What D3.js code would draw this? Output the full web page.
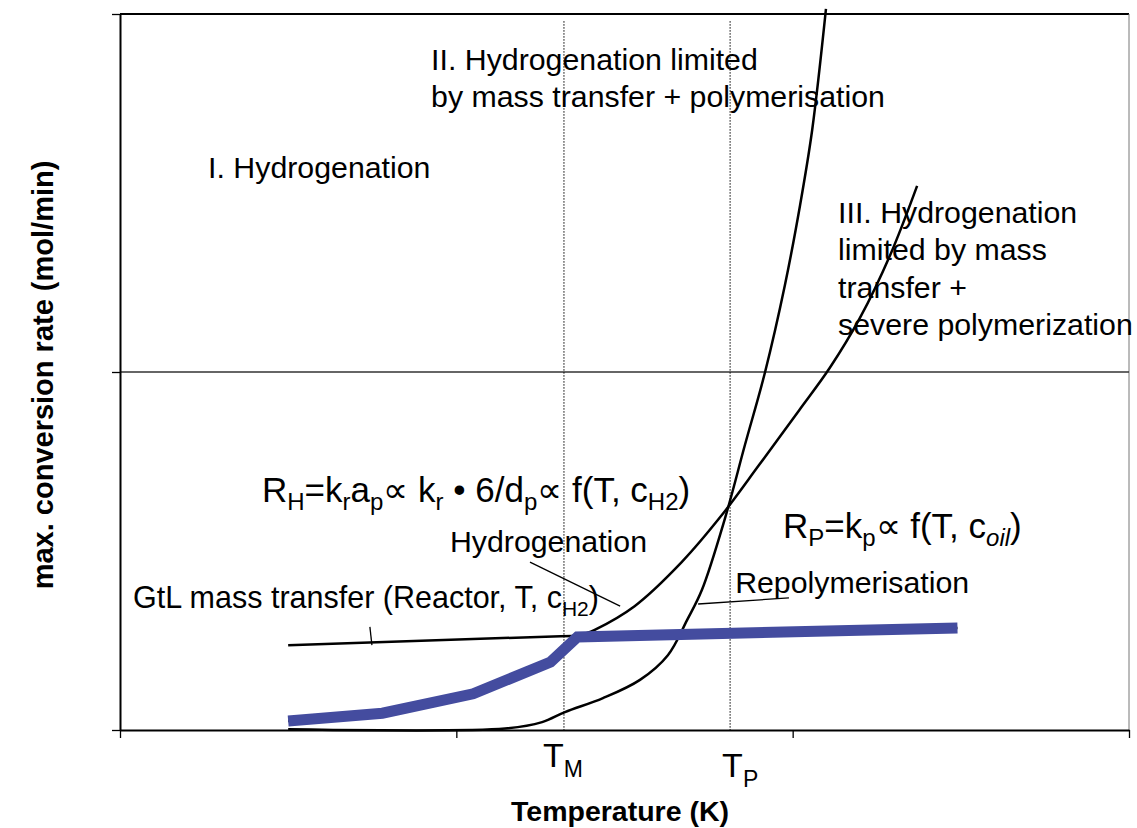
<!DOCTYPE html>
<html>
<head>
<meta charset="utf-8">
<script src="https://cdn.jsdelivr.net/npm/d3@7"></script>
<style>
  body { margin: 0; background: #fff; }
  text { font-family: "Liberation Sans", Arial, Helvetica, sans-serif; fill: #000; }
</style>
</head>
<body>
<div id="chart"></div>
<script>
// data (temperature and rate in arbitrary units)
var xTicks = [0, 1, 2, 3];
var yTicks = [0, 1, 2];

// gas-to-liquid mass transfer limit
var massTransfer = [[0.50, 0.237], [1.31, 0.262], [2.49, 0.285]];

// hydrogenation rate
var hydrogenation = [[0.50, 0.025], [0.78, 0.047], [1.05, 0.101], [1.28, 0.190], [1.36, 0.260],
  [1.41, 0.279], [1.53, 0.346], [1.67, 0.469], [1.79, 0.601], [1.90, 0.740], [2.02, 0.894],
  [2.11, 1.011], [2.20, 1.151], [2.29, 1.327], [2.37, 1.520]];

// repolymerisation rate
var repolymerisation = [[0.50, 0.002], [1.145, 0.004], [1.255, 0.022], [1.323, 0.050], [1.436, 0.089],
  [1.546, 0.140], [1.629, 0.209], [1.686, 0.307], [1.730, 0.391], [1.799, 0.592], [1.858, 0.796],
  [1.918, 1.000], [1.977, 1.243], [2.022, 1.466], [2.058, 1.676], [2.099, 2.014]];

// max. conversion rate (thick line)
var maxRate = [[0.50, 0.025], [0.78, 0.047], [1.05, 0.101], [1.28, 0.190], [1.36, 0.260], [2.49, 0.285]];

// characteristic temperatures
var tMarks = [{name: "M", x: 1.320, dx: -21, dy: 37}, {name: "P", x: 1.814, dx: -8, dy: 47}];

// leader lines for the labels
var leaders = [
  [[1.219, 0.469], [1.487, 0.346]],
  [[1.719, 0.352], [1.989, 0.369]],
  [[0.743, 0.288], [0.749, 0.237]]
];

// plain region labels
var labels = [
  {text: "I. Hydrogenation", x: 0.262, y: 1.542},
  {text: "II. Hydrogenation limited", x: 0.925, y: 1.844},
  {text: "by mass transfer + polymerisation", x: 0.925, y: 1.740},
  {text: "III. Hydrogenation", x: 2.135, y: 1.416},
  {text: "limited by mass", x: 2.135, y: 1.313},
  {text: "transfer +", x: 2.135, y: 1.207},
  {text: "severe polymerization", x: 2.135, y: 1.103},
  {text: "Hydrogenation", x: 0.981, y: 0.497},
  {text: "Repolymerisation", x: 1.829, y: 0.383}
];

// labels with subscripts: pieces of [text, kind] (n normal, s sub, i italic sub)
var richLabels = [
  {x: 0.422, y: 0.637, size: 35, parts: [["R", "n"], ["H", "s"], ["=k", "n"], ["r", "s"], ["a", "n"], ["p", "s"],
    ["\u221D k", "n"], ["r", "s"], [" \u2022 6/d", "n"], ["p", "s"], ["\u221D f(T, c", "n"], ["H2", "s"], [")", "n"]]},
  {x: 1.971, y: 0.536, size: 35, parts: [["R", "n"], ["P", "s"], ["=k", "n"], ["p", "s"], ["\u221D f(T, c", "n"], ["oil", "i"], [")", "n"]]},
  {x: 0.039, y: 0.341, size: 30.5, parts: [["GtL mass transfer (Reactor, T, c", "n"], ["H2", "s"], [")", "n"]]}
];

var width = 1137, height = 828;
var x = d3.scaleLinear().domain([0, 3]).range([120, 1129]);
var y = d3.scaleLinear().domain([0, 2]).range([730, 14]);

var svg = d3.select("#chart").append("svg")
    .attr("width", width)
    .attr("height", height);

// frame and grid line
svg.append("line")
    .attr("x1", x(0)).attr("x2", x(3))
    .attr("y1", y(2)).attr("y2", y(2))
    .style("stroke", "#000").style("stroke-width", 2);
svg.append("line")
    .attr("x1", x(3)).attr("x2", x(3))
    .attr("y1", y(2)).attr("y2", y(0))
    .style("stroke", "#777").style("stroke-width", 1);
svg.append("line")
    .attr("x1", x(0)).attr("x2", x(3))
    .attr("y1", y(1)).attr("y2", y(1))
    .style("stroke", "#333").style("stroke-width", 1.3);

// axes
var xAxis = svg.append("g")
    .attr("transform", "translate(0," + y(0) + ")")
    .call(d3.axisBottom(x).tickValues(xTicks).tickFormat("").tickSize(8).tickSizeOuter(0));
var yAxis = svg.append("g")
    .attr("transform", "translate(" + x(0) + ",0)")
    .call(d3.axisLeft(y).tickValues(yTicks).tickFormat("").tickSize(8).tickSizeOuter(0));
xAxis.select(".domain").style("stroke", "#000").style("stroke-width", 2);
yAxis.select(".domain").style("stroke", "#000").style("stroke-width", 2);
svg.selectAll(".tick line").style("stroke", "#000").style("stroke-width", 1.3);

// dotted temperature markers
svg.selectAll(".tmark")
    .data(tMarks)
  .enter().append("line")
    .attr("class", "tmark")
    .attr("x1", function(d) { return x(d.x); })
    .attr("x2", function(d) { return x(d.x); })
    .attr("y1", y(1.98))
    .attr("y2", y(0))
    .style("stroke", "#000")
    .style("stroke-width", 1)
    .style("stroke-dasharray", "1.5,1.5");

var tLabel = svg.selectAll(".tlabel")
    .data(tMarks)
  .enter().append("text")
    .attr("class", "tlabel")
    .attr("x", function(d) { return x(d.x) + d.dx; })
    .attr("y", function(d) { return y(0) + d.dy; })
    .style("font-size", "34px");
tLabel.append("tspan").text("T");
tLabel.append("tspan").attr("dy", 10).style("font-size", "23px").text(function(d) { return d.name; });

var line = d3.line()
    .x(function(d) { return x(d[0]); })
    .y(function(d) { return y(d[1]); });
var curve = d3.line()
    .curve(d3.curveCatmullRom.alpha(0.5))
    .x(function(d) { return x(d[0]); })
    .y(function(d) { return y(d[1]); });

// curves
svg.append("path")
    .datum(massTransfer)
    .attr("d", line)
    .style("fill", "none").style("stroke", "#000").style("stroke-width", 2.5);
svg.append("path")
    .datum(hydrogenation)
    .attr("d", curve)
    .style("fill", "none").style("stroke", "#000").style("stroke-width", 2.5);
svg.append("path")
    .datum(repolymerisation)
    .attr("d", curve)
    .style("fill", "none").style("stroke", "#000").style("stroke-width", 2.5);

// leader lines
svg.selectAll(".leader")
    .data(leaders)
  .enter().append("path")
    .attr("class", "leader")
    .attr("d", line)
    .style("fill", "none").style("stroke", "#000").style("stroke-width", 1.3);

// max rate
svg.append("path")
    .datum(maxRate)
    .attr("d", line)
    .style("fill", "none")
    .style("stroke", "#444c9f")
    .style("stroke-width", 11)
    .style("stroke-linejoin", "miter");

// labels
svg.selectAll(".lbl")
    .data(labels)
  .enter().append("text")
    .attr("class", "lbl")
    .attr("x", function(d) { return x(d.x); })
    .attr("y", function(d) { return y(d.y); })
    .style("font-size", "30.3px")
    .text(function(d) { return d.text; });

richLabels.forEach(function(r) {
  var t = svg.append("text")
      .attr("x", x(r.x))
      .attr("y", y(r.y))
      .style("font-size", r.size + "px");
  var shift = 0;
  r.parts.forEach(function(p) {
    var s = t.append("tspan").text(p[0]);
    if (p[1] === "n") {
      s.attr("dy", -shift);
      shift = 0;
    } else {
      var d = 8 - shift;
      s.attr("dy", d).style("font-size", Math.round(r.size * 0.68) + "px");
      if (p[1] === "i") s.style("font-style", "italic");
      shift = 8;
    }
  });
});

// axis titles
svg.append("text")
    .attr("x", 620)
    .attr("y", 821)
    .attr("text-anchor", "middle")
    .style("font-size", "28.5px")
    .style("font-weight", "bold")
    .text("Temperature (K)");
svg.append("text")
    .attr("transform", "translate(53,375) rotate(-90)")
    .attr("text-anchor", "middle")
    .style("font-size", "29px")
    .style("font-weight", "bold")
    .text("max. conversion rate (mol/min)");
</script>
</body>
</html>
